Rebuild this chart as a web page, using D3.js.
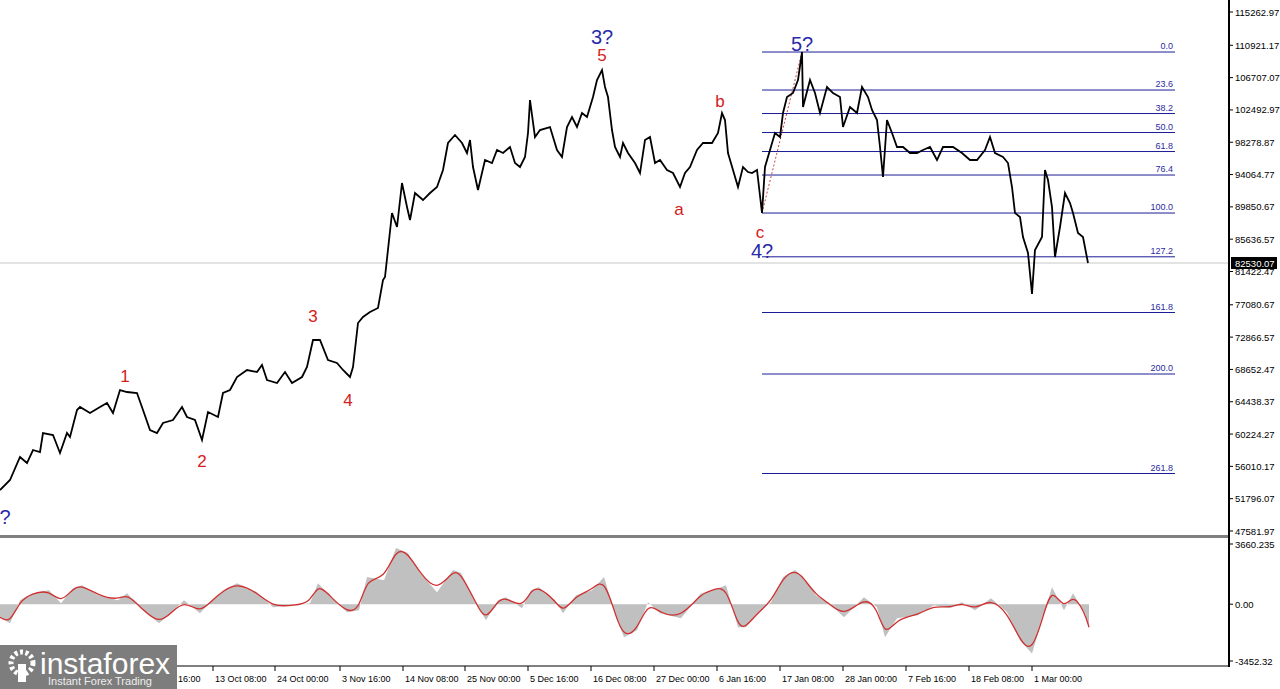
<!DOCTYPE html>
<html><head><meta charset="utf-8">
<script src="https://cdn.jsdelivr.net/npm/d3@7/dist/d3.min.js"></script>
<style>body{margin:0;background:#fff;}svg{display:block;font-family:"Liberation Sans",Arial,sans-serif;}</style>
</head><body><svg id="c" width="1280" height="689"></svg>
<script>
// ---- data ----
const priceBars=[0,10,20,27,33,40,43,53,60,67,70,77,80,90,100,107,113,120,127,137,143,150,157,163,173,182,187,195,202,208,218,223,230,237,247,257,262,267,277,285,292,302,307,313,320,328,337,343,350,353,358,363,370,378,383,
385,392,397,402,407,410,415,423,430,437,443,448,455,462,467,470,473,478,485,492,497,503,510,515,520,525,528,530,535,540,550,557,562,567,572,577,582,587,593,597,602,605,608,612,615,620,623,628,635,640,645,650,655,660,667,673,680,685,690,697,703,712,718,722,725,728,733,738,743,748,
752,757,762,765,770,775,780,783,787,793,798,802,803,810,815,820,827,833,840,843,850,857,862,868,872,877,880,883,887,892,897,903,910,917,923,930,937,943,953,962,970,977,985,990,995,1003,1008,1012,1015,1020,1023,1028,1032,1035,1042,1045,1048,1052,1055,1060,1065,1070,1073,1078,1083,1088];
const closes=[52928,54232,57232,56449,58144,57884,60361,60100,57753,60361,59840,63360,63752,62969,63752,64273,62969,65968,65708,65577,63360,60752,60361,61665,62056,63752,62448,62056,59448,63100,62448,65577,65968,67664,68576,68316,69228,67272,66881,68316,66881,67664,68968,72488,72488,69880,69489,68576,67664,68968,74705,75488,76140,76661,80312,
80704,89049,87224,92961,89832,88136,91657,90744,91657,92440,94656,98177,99220,98177,96873,98568,95048,92048,95960,95569,97264,96873,97656,95569,95048,96352,99481,103784,98960,99872,100264,97264,96352,100264,101568,100264,102089,101568,104176,106392,107696,105480,104176,99872,97656,96352,98177,96873,95569,94265,98568,98960,95569,95960,94656,94265,92440,94265,95048,97264,98177,98177,99481,102089,101176,96873,94656,92440,95048,94396,
94265,94656,89049,95048,97264,99481,98960,102089,104176,104697,106392,110044,102872,106392,104697,102089,105480,104697,104176,100264,102872,102089,105480,104176,102480,101176,97656,93744,101176,99481,97656,97656,96873,96873,97264,97656,95960,97656,97656,96873,95960,95960,97264,98960,96873,96352,95569,92440,89049,88528,85920,83833,78500,84224,85920,94656,93352,89832,83312,87224,91657,90353,89049,86441,85920,82530];
const priceTicks=["115262.97","110921.17","106707.07","102492.97","98278.87","94064.77","89850.67","85636.57","81422.47","77080.67","72866.57","68652.47","64438.37","60224.27","56010.17","51796.07","47581.97"];
const lastPrice=82530.07;
const fibRatios=[0,23.6,38.2,50,61.8,76.4,100,127.2,161.8,200,261.8];
const fibHigh=110044, fibLow=89049;
const macdBars=[0,10,20,33,49,61,73,82,98,118,127,143,159,171,184,200,212,224,237,257,273,294,310,318,331,347,359,367,384,396,408,420,437,453,461,478,486,498,506,522,531,539,555,563,576,592,604,616,624,637,
648,660,681,701,713,726,738,746,758,771,783,795,803,816,828,844,864,877,885,897,918,934,950,962,975,991,1007,1020,1032,1044,1052,1064,1073,1085,1089];
const macdVals=[-793,-1159,244,671,854,61,976,1159,549,244,671,-366,-1159,-549,244,-549,244,854,1281,732,-183,-61,61,1281,427,-488,-366,1647,1464,3416,3111,1891,732,2074,1891,-183,-976,244,427,-244,854,1037,244,-549,549,854,1647,-793,-2013,-1586,
122,-549,-854,671,854,1159,-1403,-1403,-488,122,1647,2074,1647,549,122,-793,427,-183,-2013,-854,-671,-61,-244,122,-366,366,-488,-2196,-2989,-549,1037,-366,671,-549,-1403];
const macdTicks=[["3660.235",3660.235],["0.00",0],["-3452.32",-3452.32]];
const timeTicks=[[28,"10 Sep 08:00"],[90,"21 Sep 00:00"],[152,"2 Oct 16:00"],[213,"13 Oct 08:00"],[275,"24 Oct 00:00"],[340,"3 Nov 16:00"],[403,"14 Nov 08:00"],[465,"25 Nov 00:00"],[528,"5 Dec 16:00"],[591,"16 Dec 08:00"],[654,"27 Dec 00:00"],[717,"6 Jan 16:00"],[780,"17 Jan 08:00"],[843,"28 Jan 00:00"],[906,"7 Feb 16:00"],[969,"18 Feb 08:00"],[1032,"1 Mar 00:00"]];
const waveRed=[["1",125,67010],["2",202,55928],["3",313,74836],["4",348,63882],["5",602,108870],["a",679,88788],["b",720,102870],["c",760,85790]];
const waveBlue=[["3?",602,111087],["5?",802,110174],["4?",762,83181],["?",5,48495]];

// ---- scales ----
const svg=d3.select("#c");
const x=d3.scaleLinear().domain([0,1229]).range([0,1229]);
const y=d3.scaleLinear().domain([47581.97,115262.97]).range([531,12]);
const ym=d3.scaleLinear().domain([-3452.32,3660.235]).range([661,544]);
const R=1229;

svg.append("line").attr("x1",0).attr("x2",R).attr("y1",y(lastPrice)).attr("y2",y(lastPrice)).attr("stroke","#c8c8c8");

const fx0=x(762), fx1=x(1175);
fibRatios.forEach(r=>{
  const p=fibHigh-r/100*(fibHigh-fibLow);
  svg.append("line").attr("x1",fx0).attr("x2",fx1).attr("y1",y(p)).attr("y2",y(p)).attr("stroke","#1c1c96");
  svg.append("text").attr("x",fx1-2).attr("y",y(p)-3).attr("text-anchor","end").attr("font-size",9).attr("fill","#2a2aa0").text(r.toFixed(1));
});
svg.append("line").attr("x1",x(762)).attr("y1",y(fibLow)).attr("x2",x(802)).attr("y2",y(fibHigh)).attr("stroke","#d04040").attr("stroke-dasharray","2,2");

const pts=priceBars.map((b,i)=>[b,closes[i]]);
svg.append("path").datum(pts).attr("fill","none").attr("stroke","#000").attr("stroke-width",1.8)
 .attr("d",d3.line().x(d=>x(d[0])).y(d=>y(d[1])));

waveRed.forEach(w=>svg.append("text").attr("x",x(w[1])).attr("y",y(w[2])).attr("text-anchor","middle").attr("font-size",17).attr("fill","#d42020").text(w[0]));
waveBlue.forEach(w=>svg.append("text").attr("x",x(w[1])).attr("y",y(w[2])).attr("text-anchor","middle").attr("font-size",20).attr("fill","#2a2aa8").text(w[0]));

svg.append("rect").attr("x",0).attr("y",535).attr("width",R).attr("height",3).attr("fill","#808080");

svg.append("line").attr("x1",R).attr("x2",R).attr("y1",0).attr("y2",667).attr("stroke","#000").attr("stroke-width",2);
priceTicks.forEach(t=>{
  const v=+t; svg.append("line").attr("x1",R).attr("x2",R+4).attr("y1",y(v)).attr("y2",y(v)).attr("stroke","#000");
  svg.append("text").attr("x",R+6).attr("y",y(v)+3.5).attr("font-size",9.5).attr("fill","#000").text(t);
});
const lp=svg.append("g");
lp.append("rect").attr("x",R+2).attr("y",y(lastPrice)-6).attr("width",46).attr("height",12).attr("fill","#000");
lp.append("text").attr("x",R+6).attr("y",y(lastPrice)+3.5).attr("font-size",9.5).attr("fill","#fff").text(lastPrice.toFixed(2));

const mpts=macdBars.map((b,i)=>[b,macdVals[i]]);
svg.append("path").datum(mpts).attr("fill","#c0c0c0")
 .attr("d",d3.area().x(d=>x(d[0])).y0(ym(0)).y1(d=>ym(d[1])));
svg.append("path").datum(mpts).attr("fill","none").attr("stroke","#d03030").attr("stroke-width",1.3)
 .attr("d",d3.line().curve(d3.curveBasis).x(d=>x(d[0])).y(d=>ym(d[1])));
macdTicks.forEach(t=>{
  svg.append("line").attr("x1",R).attr("x2",R+4).attr("y1",ym(t[1])).attr("y2",ym(t[1])).attr("stroke","#000");
  svg.append("text").attr("x",R+6).attr("y",ym(t[1])+3.5).attr("font-size",9.5).text(t[0]);
});

svg.append("line").attr("x1",0).attr("x2",R).attr("y1",666).attr("y2",666).attr("stroke","#000");
timeTicks.forEach(t=>{
  svg.append("line").attr("x1",x(t[0])).attr("x2",x(t[0])).attr("y1",666).attr("y2",671).attr("stroke","#000");
  svg.append("text").attr("x",x(t[0])+2).attr("y",682).attr("font-size",9).text(t[1]);
});

const lg=svg.append("g");
lg.append("rect").attr("x",0).attr("y",645).attr("width",177).attr("height",44).attr("fill","#7d7d7d");
lg.append("circle").attr("cx",22).attr("cy",663).attr("r",11).attr("fill","none").attr("stroke","#fff").attr("stroke-width",5).attr("stroke-dasharray","3,2.5");
lg.append("rect").attr("x",18).attr("y",664).attr("width",8).attr("height",18).attr("fill","#fff");
lg.append("text").attr("x",40).attr("y",674).attr("font-size",30).attr("fill","#fff").text("instaforex");
lg.append("text").attr("x",48).attr("y",685).attr("font-size",11).attr("fill","#eee").text("Instant Forex Trading");
</script></body></html>
